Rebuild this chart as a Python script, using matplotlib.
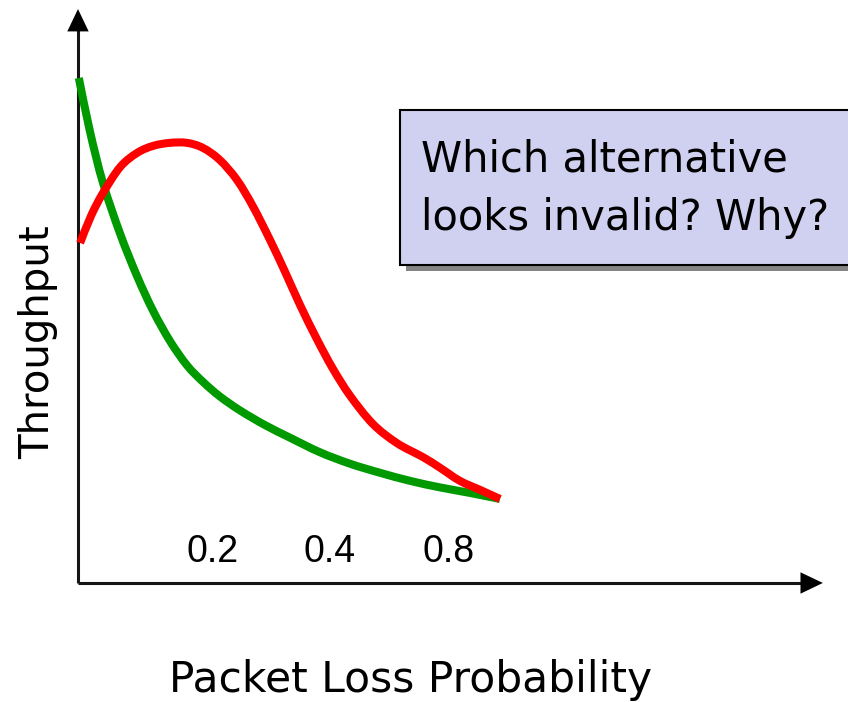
import matplotlib
matplotlib.use("Agg")
import matplotlib.pyplot as plt
import numpy as np
from matplotlib.patches import Rectangle, PathPatch
from matplotlib.path import Path

# Sketch curves: normalised loss probability (x) vs throughput (y)
green_x = [0.002, 0.028, 0.059, 0.100, 0.140, 0.178, 0.218, 0.258, 0.296, 0.336,
           0.384, 0.443, 0.502, 0.573, 0.645, 0.716, 0.787, 0.858, 0.929, 1.000]
green_y = [1.004, 0.899, 0.796, 0.694, 0.610, 0.541, 0.481, 0.433, 0.400, 0.371,
           0.343, 0.314, 0.289, 0.260, 0.237, 0.219, 0.203, 0.190, 0.179, 0.167]

red_x = [0.005, 0.031, 0.059, 0.100, 0.140, 0.178, 0.218, 0.258, 0.296, 0.336,
         0.377, 0.415, 0.455, 0.491, 0.526, 0.566, 0.604, 0.645, 0.699, 0.756,
         0.818, 0.858, 0.905, 0.953, 1.000]
red_y = [0.676, 0.730, 0.775, 0.827, 0.855, 0.869, 0.875, 0.875, 0.865, 0.841,
         0.801, 0.748, 0.682, 0.618, 0.553, 0.485, 0.426, 0.372, 0.316, 0.278,
         0.250, 0.229, 0.203, 0.185, 0.167]

tick_pos = [0.318, 0.597, 0.877]
tick_labels = ["0.2", "0.4", "0.8"]


def smooth_path(xs, ys):
    """Catmull-Rom curve through the given points, as cubic Bezier segments."""
    p = np.column_stack([xs, ys]).astype(float)
    n = len(p)
    verts = [p[0]]
    codes = [Path.MOVETO]
    for i in range(n - 1):
        p0 = p[i - 1] if i > 0 else p[i]
        p1, p2 = p[i], p[i + 1]
        p3 = p[i + 2] if i + 2 < n else p[i + 1]
        verts += [p1 + (p2 - p0) / 6, p2 - (p3 - p1) / 6, p2]
        codes += [Path.CURVE4] * 3
    return Path(verts, codes)


W, H = 848, 702
fig = plt.figure(figsize=(W / 100, H / 100), dpi=100)
ax = fig.add_axes([0, 0, 1, 1])
ax.set_xlim(-0.1848, 1.8246)
ax.set_ylim(-0.2366, 1.1590)
ax.axis("off")

arial = ["Liberation Sans", "DejaVu Sans"]
wide = ["DejaVu Sans"]

# axes with arrowheads
axis_col = "#151515"
ax.plot([0, 0], [0, 1.11], color=axis_col, lw=2.2, solid_capstyle="butt", zorder=1)
ax.plot([0, 1.74], [0, 0], color=axis_col, lw=2.2, solid_capstyle="butt", zorder=1)
head = dict(arrowstyle="-|>,head_length=1.15,head_width=0.55", mutation_scale=14,
            color="black", lw=0, shrinkA=0, shrinkB=0)
ax.annotate("", xy=(0, 1.141), xytext=(0, 1.10), arrowprops=head)
ax.annotate("", xy=(1.765, 0), xytext=(1.72, 0), arrowprops=head)

for xs, ys, col, z in [(green_x, green_y, "#009900", 3), (red_x, red_y, "#ff0000", 4)]:
    ax.add_patch(PathPatch(smooth_path(xs, ys), facecolor="none", edgecolor=col,
                           lw=5.8, capstyle="butt", joinstyle="round", zorder=z))

for xp, lab in zip(tick_pos, tick_labels):
    ax.text(xp, 0.062, lab, ha="center", va="center", fontsize=27, family=arial)

fig.text(38 / W, 1 - 342 / H, "Throughput", rotation=90, ha="center", va="center",
         fontsize=29, family=wide)
fig.text(411 / W, 1 - 680 / H, "Packet Loss Probability", ha="center", va="center",
         fontsize=30.5, family=wide)

# question box with drop shadow
bx0, by0, bx1, by1 = 400, 110, 860, 265
fig.patches.append(Rectangle(((bx0 + 6) / W, 1 - (by1 + 6) / H), (bx1 - bx0) / W,
                             (by1 - by0) / H, transform=fig.transFigure,
                             facecolor="#858585", edgecolor="none", zorder=5))
fig.patches.append(Rectangle((bx0 / W, 1 - by1 / H), (bx1 - bx0) / W,
                             (by1 - by0) / H, transform=fig.transFigure,
                             facecolor="#d0d0f0", edgecolor="black", lw=1.5, zorder=6))
fig.text(421 / W, 1 - 172 / H, "Which alternative", ha="left", va="baseline",
         fontsize=30, family=wide, zorder=7)
fig.text(421 / W, 1 - 230 / H, "looks invalid? Why?", ha="left", va="baseline",
         fontsize=30, family=wide, zorder=7)

fig.savefig("out.png", dpi=100)
